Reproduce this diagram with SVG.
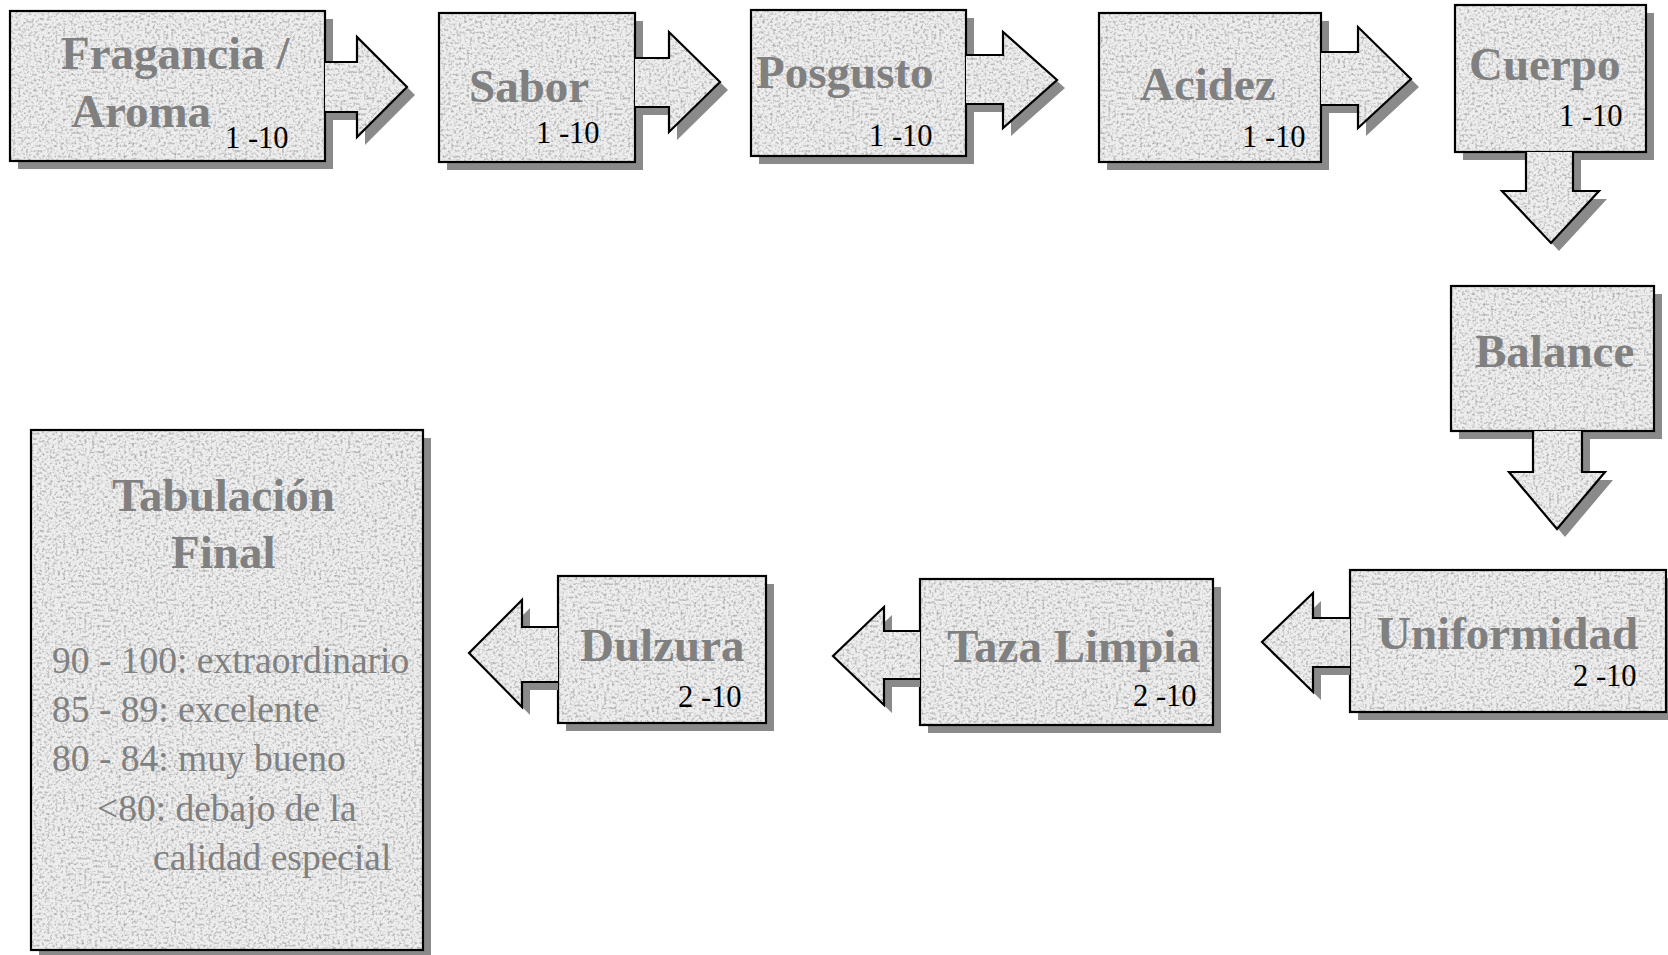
<svg xmlns="http://www.w3.org/2000/svg" width="1668" height="955" viewBox="0 0 1668 955">
  <defs>
    <filter id="speck" x="0" y="0" width="100%" height="100%" color-interpolation-filters="sRGB">
      <feTurbulence type="fractalNoise" baseFrequency="0.38" numOctaves="2" seed="11" stitchTiles="stitch" result="t"/>
      <feColorMatrix in="t" type="matrix" values="0 0 0 0 0.66  0 0 0 0 0.66  0 0 0 0 0.66  2.6 0 0 0 -1.2"/>
    </filter>
    <pattern id="granite" patternUnits="userSpaceOnUse" width="256" height="256">
      <rect width="256" height="256" fill="#eeeeee"/>
      <rect width="256" height="256" filter="url(#speck)"/>
    </pattern>
    <style>
      .shadow { fill: #8a8a8a; stroke: none; }
      .box { fill: url(#granite); stroke: #000; stroke-width: 2.2; }
      .arrow { fill: url(#granite); stroke: #000; stroke-width: 2.2; stroke-linejoin: miter; }
      .title { font-family: "Liberation Serif", "Times New Roman", serif; font-weight: bold; font-size: 47px; fill: #808080; }
      .score { font-family: "Liberation Serif", "Times New Roman", serif; font-size: 30.5px; fill: #000; }
      .body { font-family: "Liberation Serif", "Times New Roman", serif; font-size: 37.5px; fill: #808080; }
    </style>
  </defs>
  <rect width="1668" height="955" fill="#ffffff"/>

  <g id="node-fragancia">
    <rect class="shadow" x="18" y="19" width="315" height="150"/>
    <rect class="box" x="10" y="11" width="315" height="150"/>
    <text class="title" x="61" y="69">Fragancia /</text>
    <text class="title" x="71" y="127">Aroma</text>
    <text class="score" x="225" y="148">1 -10</text>
  </g>

  <g id="node-sabor">
    <rect class="shadow" x="447" y="21" width="196" height="149"/>
    <rect class="box" x="439" y="13" width="196" height="149"/>
    <text class="title" x="469" y="102">Sabor</text>
    <text class="score" x="536" y="143">1 -10</text>
  </g>

  <g id="node-posgusto">
    <rect class="shadow" x="759" y="18" width="215" height="146"/>
    <rect class="box" x="751" y="10" width="215" height="146"/>
    <text class="title" x="756" y="88">Posgusto</text>
    <text class="score" x="869" y="146">1 -10</text>
  </g>

  <g id="node-acidez">
    <rect class="shadow" x="1107" y="21" width="222" height="149"/>
    <rect class="box" x="1099" y="13" width="222" height="149"/>
    <text class="title" x="1140" y="100">Acidez</text>
    <text class="score" x="1242" y="147">1 -10</text>
  </g>

  <g id="node-cuerpo">
    <rect class="shadow" x="1463" y="13" width="191" height="147"/>
    <rect class="box" x="1455" y="5" width="191" height="147"/>
    <text class="title" x="1469" y="80">Cuerpo</text>
    <text class="score" x="1559" y="126">1 -10</text>
  </g>

  <g id="node-balance">
    <rect class="shadow" x="1459" y="294" width="203" height="145"/>
    <rect class="box" x="1451" y="286" width="203" height="145"/>
    <text class="title" x="1475" y="367">Balance</text>
  </g>

  <g id="node-uniformidad">
    <rect class="shadow" x="1358" y="578" width="317" height="142"/>
    <rect class="box" x="1350" y="570" width="316" height="142"/>
    <text class="title" x="1377" y="649">Uniformidad</text>
    <text class="score" x="1573" y="686">2 -10</text>
  </g>

  <g id="node-taza-limpia">
    <rect class="shadow" x="928" y="587" width="293" height="146"/>
    <rect class="box" x="920" y="579" width="293" height="146"/>
    <text class="title" x="947" y="662">Taza Limpia</text>
    <text class="score" x="1133" y="706">2 -10</text>
  </g>

  <g id="node-dulzura">
    <rect class="shadow" x="566" y="584" width="208" height="147"/>
    <rect class="box" x="558" y="576" width="208" height="147"/>
    <text class="title" x="580" y="661">Dulzura</text>
    <text class="score" x="678" y="707">2 -10</text>
  </g>

  <g id="node-tabulacion">
    <rect class="shadow" x="39" y="438" width="392" height="520"/>
    <rect class="box" x="31" y="430" width="392" height="520"/>
    <text class="title" x="112" y="511">Tabulación</text>
    <text class="title" x="171" y="568">Final</text>
    <text class="body" x="52" y="673">90 - 100: extraordinario</text>
    <text class="body" x="52" y="722">85 - 89: excelente</text>
    <text class="body" x="52" y="771">80 - 84: muy bueno</text>
    <text class="body" x="97" y="821">&lt;80: debajo de la</text>
    <text class="body" x="153" y="870">calidad especial</text>
  </g>

  <g id="connectors">
    <g id="arrow-fragancia-sabor">
      <path class="shadow" d="M333,70 H365 V45 L415,95 L365,145 V120 H333 Z"/>
      <path class="arrow" d="M325,62 H357 V37 L407,87 L357,137 V112 H325"/>
    </g>
    <g id="arrow-sabor-posgusto">
      <path class="shadow" d="M643,66 H677 V40 L728,90 L677,140 V115 H643 Z"/>
      <path class="arrow" d="M635,58 H669 V32 L720,82 L669,132 V107 H635"/>
    </g>
    <g id="arrow-posgusto-acidez">
      <path class="shadow" d="M974,63 H1011 V40 L1065,88 L1011,136 V112 H974 Z"/>
      <path class="arrow" d="M966,55 H1003 V32 L1057,80 L1003,128 V104 H966"/>
    </g>
    <g id="arrow-acidez-cuerpo">
      <path class="shadow" d="M1329,60 H1366 V35 L1419,87 L1366,136 V113 H1329 Z"/>
      <path class="arrow" d="M1321,52 H1358 V27 L1411,79 L1358,128 V105 H1321"/>
    </g>
    <g id="arrow-cuerpo-balance">
      <path class="shadow" d="M1534,160 V199 H1510 L1559,251 L1607,199 H1581 V160 Z"/>
      <path class="arrow" d="M1526,152 V191 H1502 L1551,243 L1599,191 H1573 V152"/>
    </g>
    <g id="arrow-balance-uniformidad">
      <path class="shadow" d="M1541,439 V480 H1517 L1565,537 L1613,480 H1590 V439 Z"/>
      <path class="arrow" d="M1533,431 V472 H1509 L1557,529 L1605,472 H1582 V431"/>
    </g>
    <g id="arrow-uniformidad-taza">
      <path class="shadow" d="M1350,626 H1321 V601 L1270,650 L1321,700 V675 H1350 Z"/>
      <path class="arrow" d="M1350,618 H1313 V593 L1262,642 L1313,692 V667 H1350"/>
    </g>
    <g id="arrow-taza-dulzura">
      <path class="shadow" d="M920,639 H892 V615 L841,664 L892,713 V687 H920 Z"/>
      <path class="arrow" d="M920,631 H884 V607 L833,656 L884,705 V679 H920"/>
    </g>
    <g id="arrow-dulzura-tabulacion">
      <path class="shadow" d="M558,635 H530 V608 L477,661 L530,715 V690 H558 Z"/>
      <path class="arrow" d="M558,627 H522 V600 L469,653 L522,707 V682 H558"/>
    </g>
  </g>
</svg>
